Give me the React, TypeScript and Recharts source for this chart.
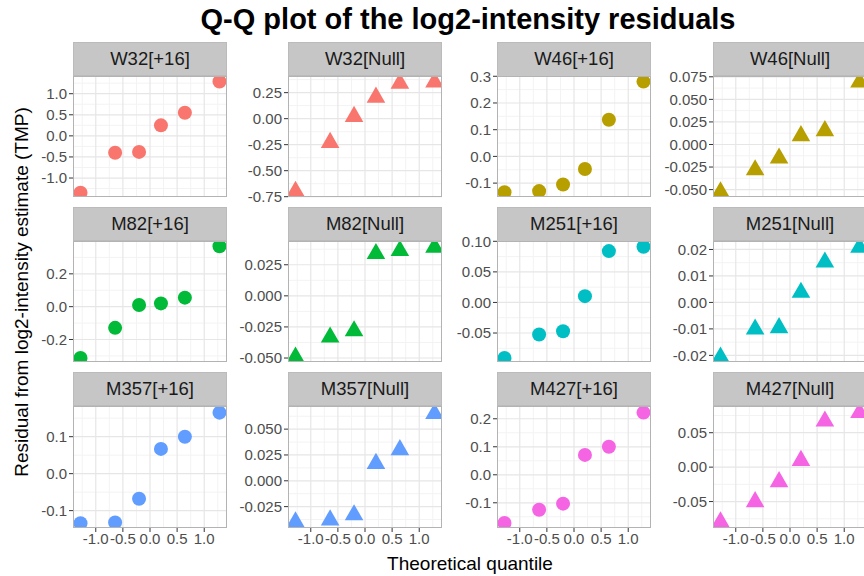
import React from 'react'
import { ScatterChart, Scatter, XAxis, YAxis, ReferenceLine } from 'recharts'

// theoretical normal quantiles for n = 6
const QUANTILES = [-1.2816, -0.6433, -0.2019, 0.2019, 0.6433, 1.2816]
const X_TICKS = [-1, -0.5, 0, 0.5, 1]
const X_MINOR = [-1.25, -0.75, -0.25, 0.25, 0.75, 1.25]
const X_DOMAIN: [number, number] = [-1.42, 1.42]

const PANEL_LABELS = [
  'W32[+16]', 'W32[Null]', 'W46[+16]', 'W46[Null]',
  'M82[+16]', 'M82[Null]', 'M251[+16]', 'M251[Null]',
  'M357[+16]', 'M357[Null]', 'M427[+16]', 'M427[Null]',
]
const PEPTIDE_COLORS = ['#F8766D', '#B79F00', '#00BA38', '#00BFC4', '#619CFF', '#F564E3']

// residuals, sorted, one array per panel
const W32_PLUS = [-1.35, -0.40, -0.38, 0.25, 0.55, 1.29]
const W32_NULL = [-0.70, -0.23, 0.02, 0.205, 0.34, 0.35]
const W46_PLUS = [-0.134, -0.13, -0.105, -0.047, 0.137, 0.28]
const W46_NULL = [-0.0527, -0.0282, -0.0152, 0.0096, 0.0151, 0.069]
const M82_PLUS = [-0.313, -0.129, 0.01, 0.02, 0.055, 0.368]
const M82_NULL = [-0.0494, -0.0333, -0.0282, 0.0339, 0.0363, 0.039]
const M251_PLUS = [-0.0908, -0.0525, -0.047, 0.0103, 0.084, 0.091]
const M251_NULL = [-0.0207, -0.0101, -0.0096, 0.0038, 0.0152, 0.0208]
const M357_PLUS = [-0.134, -0.132, -0.068, 0.067, 0.10, 0.165]
const M357_NULL = [-0.040, -0.038, -0.033, 0.0167, 0.030, 0.065]
const M427_PLUS = [-0.172, -0.125, -0.103, 0.071, 0.10, 0.222]
const M427_NULL = [-0.0797, -0.0503, -0.0213, 0.0096, 0.0667, 0.079]

const RESIDUALS = [
  W32_PLUS, W32_NULL, W46_PLUS, W46_NULL,
  M82_PLUS, M82_NULL, M251_PLUS, M251_NULL,
  M357_PLUS, M357_NULL, M427_PLUS, M427_NULL,
]

// free y scales
const Y_TICKS = [
  [-1, -0.5, 0, 0.5, 1], [-0.75, -0.5, -0.25, 0, 0.25], [-0.1, 0, 0.1, 0.2, 0.3], [-0.05, -0.025, 0, 0.025, 0.05, 0.075],
  [-0.2, 0, 0.2], [-0.05, -0.025, 0, 0.025], [-0.05, 0, 0.05, 0.1], [-0.02, -0.01, 0, 0.01, 0.02],
  [-0.1, 0, 0.1], [-0.025, 0, 0.025, 0.05], [-0.1, 0, 0.1, 0.2], [-0.05, 0, 0.05],
]
const Y_DOMAINS: [number, number][] = [
  [-1.45, 1.42], [-0.753, 0.41], [-0.152, 0.301], [-0.0582, 0.0759],
  [-0.337, 0.40], [-0.0532, 0.0441], [-0.0974, 0.1005], [-0.0225, 0.0232],
  [-0.147, 0.183], [-0.0457, 0.0724], [-0.19, 0.2456], [-0.0884, 0.0888],
]
const Y_DECIMALS = [1, 2, 1, 3, 1, 3, 2, 2, 1, 3, 1, 2]

const FONT = '"Liberation Sans", Arial, Helvetica, sans-serif'
const COL_LEFT = [73, 288, 497, 713]
const ROW_TOP = [76, 241, 406]
const PANEL_W = 154
const PANEL_H = 121
const STRIP_H = 34
const AXIS_W = 70
const PAD = 10 // room so edge tick labels are not clipped by the svg
const GRID_MAJOR = '#E6E6E6'
const GRID_MINOR = '#F3F3F3'

const fmt = (d: number) => (v: number) => v.toFixed(d)

function minorTicks(ticks: number[], domain: [number, number]) {
  const step = ticks.length > 1 ? ticks[1] - ticks[0] : 0.1
  const out: number[] = []
  for (let v = ticks[0] - step / 2; v <= domain[1]; v += step) {
    if (v >= domain[0]) out.push(v)
  }
  return out
}

const Circle = (color: string) => (p: any) => (
  <circle cx={p.cx} cy={p.cy} r={7} fill={color} />
)

const Triangle = (color: string) => (p: any) => {
  const s = 18.6
  const h = (s * Math.sqrt(3)) / 2
  const d = `M${p.cx},${p.cy - (2 * h) / 3} L${p.cx + s / 2},${p.cy + h / 3} L${p.cx - s / 2},${p.cy + h / 3} Z`
  return <path d={d} fill={color} />
}

function Panel({ idx }: { idx: number }) {
  const row = Math.floor(idx / 4)
  const col = idx % 4
  const left = COL_LEFT[col]
  const top = ROW_TOP[row]
  const showX = row === 2
  const color = PEPTIDE_COLORS[Math.floor(idx / 2)]
  const isNull = idx % 2 === 1
  const yTicks = Y_TICKS[idx]
  const yDomain = Y_DOMAINS[idx]
  const data = QUANTILES.map((q, i) => ({ x: q, y: RESIDUALS[idx][i] }))
  const h = showX ? PANEL_H + 1 : PANEL_H
  const tickStyle = { fill: '#4D4D4D', fontSize: 15, fontFamily: FONT }

  return (
    <>
      <div
        style={{
          position: 'absolute', left, top: top - STRIP_H, width: PANEL_W, height: STRIP_H,
          background: '#C6C6C6', boxSizing: 'border-box', border: '1px solid #BBBBBB',
          display: 'flex', alignItems: 'center', justifyContent: 'center',
          fontFamily: FONT, fontSize: 18.5, color: '#1A1A1A',
        }}
      >
        {PANEL_LABELS[idx]}
      </div>
      <div style={{ position: 'absolute', left: left - AXIS_W, top: top - PAD }}>
        <ScatterChart
          width={AXIS_W + PANEL_W}
          height={h + PAD + (showX ? 34 : PAD)}
          margin={{ top: PAD, right: 0, bottom: showX ? 0 : PAD, left: 0 }}
        >
          <XAxis
            type="number" dataKey="x" domain={X_DOMAIN} ticks={X_TICKS} interval={0}
            allowDataOverflow hide={!showX} height={34} axisLine={false}
            tickSize={4} tickMargin={1} tick={tickStyle} tickLine={{ stroke: '#333333' }}
            tickFormatter={fmt(1)}
          />
          <YAxis
            type="number" dataKey="y" domain={yDomain} ticks={yTicks} interval={0}
            allowDataOverflow width={AXIS_W} axisLine={false}
            tickSize={4} tickMargin={2} tick={tickStyle} tickLine={{ stroke: '#333333' }}
            tickFormatter={fmt(Y_DECIMALS[idx])}
          />
          {X_MINOR.map(v => <ReferenceLine key={'xm' + v} x={v} stroke={GRID_MINOR} strokeWidth={1} />)}
          {minorTicks(yTicks, yDomain).map(v => <ReferenceLine key={'ym' + v} y={v} stroke={GRID_MINOR} strokeWidth={1} />)}
          {X_TICKS.map(v => <ReferenceLine key={'x' + v} x={v} stroke={GRID_MAJOR} strokeWidth={1.2} />)}
          {yTicks.map(v => <ReferenceLine key={'y' + v} y={v} stroke={GRID_MAJOR} strokeWidth={1.2} />)}
          <Scatter
            data={data}
            fill={color}
            shape={isNull ? Triangle(color) : Circle(color)}
            isAnimationActive={false}
          />
        </ScatterChart>
      </div>
      <div
        style={{
          position: 'absolute', left, top, width: PANEL_W, height: h,
          boxSizing: 'border-box', border: '1px solid #B3B3B3', pointerEvents: 'none',
        }}
      />
    </>
  )
}

export default function App() {
  return (
    <div
      style={{
        position: 'absolute', left: 0, top: 0, width: 864, height: 576,
        overflow: 'hidden', background: '#FFFFFF', fontFamily: FONT,
      }}
    >
      <div
        style={{
          position: 'absolute', left: 0, width: 936, top: 3, textAlign: 'center',
          fontSize: 29, fontWeight: 'bold', color: '#000000', lineHeight: '32px',
        }}
      >
        Q-Q plot of the log2-intensity residuals
      </div>
      {PANEL_LABELS.map((_, i) => <Panel key={i} idx={i} />)}
      <div
        style={{
          position: 'absolute', left: 22 - 250, top: 292 - 12, width: 500, height: 24,
          transform: 'rotate(-90deg)', textAlign: 'center', fontSize: 19, color: '#000000',
          lineHeight: '24px',
        }}
      >
        Residual from log2-intensity estimate (TMP)
      </div>
      <div
        style={{
          position: 'absolute', left: 73, width: 794, top: 552, textAlign: 'center',
          fontSize: 19, color: '#000000', lineHeight: '24px',
        }}
      >
        Theoretical quantile
      </div>
    </div>
  )
}
